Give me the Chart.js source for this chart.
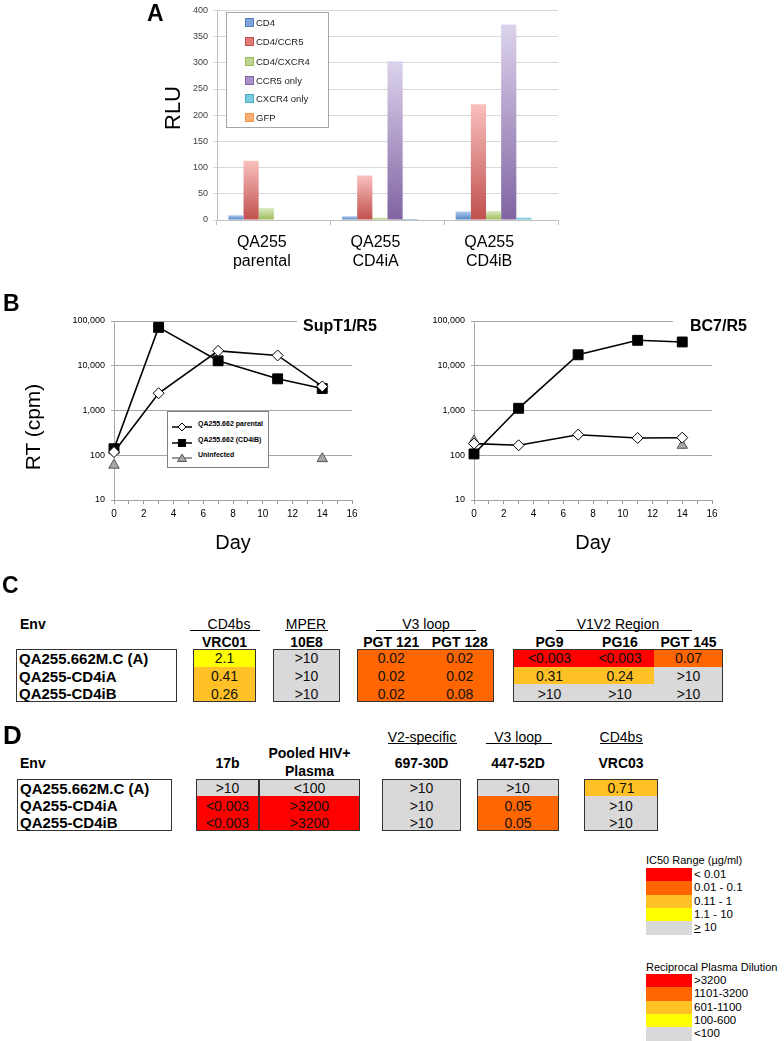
<!DOCTYPE html>
<html><head><meta charset="utf-8">
<script src="https://cdn.jsdelivr.net/npm/chart.js@4"></script>
<style>
html,body{margin:0;padding:0;background:#fff;}
body{width:784px;height:1041px;position:relative;overflow:hidden;font-family:"Liberation Sans",Arial,Helvetica,sans-serif;color:#000;}
.a{position:absolute;line-height:1;white-space:nowrap;}
canvas{position:absolute;}
.box{position:absolute;border:1.5px solid #333;box-sizing:border-box;background:#fff;}
</style></head><body>
<canvas id="cA" width="430" height="290" style="left:140px;top:0px"></canvas>
<canvas id="cB1" width="380" height="250" style="left:0px;top:300px"></canvas>
<canvas id="cB2" width="404" height="250" style="left:380px;top:300px"></canvas>
<script>
// ---------- Panel A data ----------
const groupLabels = [['QA255','parental'],['QA255','CD4iA'],['QA255','CD4iB']];
const seriesNames = ['CD4','CD4/CCR5','CD4/CXCR4','CCR5 only','CXCR4 only','GFP'];
const cd4 = [9, 7, 16];
const cd4ccr5 = [113, 85, 221];
const cd4cxcr4 = [23, 5, 17];
const ccr5only = [1, 303, 373];
const cxcr4only = [1, 2, 5];
const gfp = [0, 0, 0];
const rluTicks = [0,50,100,150,200,250,300,350,400];

// ---------- Panel B data ----------
const days = [0, 3, 7, 11, 14];
const uninfDays = [0, 14];
const supParental = [118, 2430, 21500, 17000, 3450];
const supCD4iB = [140, 72000, 12900, 5100, 3100];
const supUninf = [60, 84];
const bc7Parental = [182, 167, 288, 243, 247];
const bc7CD4iB = [107, 1120, 17600, 37000, 34000];
const bc7Uninf = [212, 167];
const rtTicks = [10, 100, 1000, 10000, 100000];
const lineLegend = ['QA255.662 parental', 'QA255.662 (CD4iB)', 'Uninfected'];

// ---------- Panel C data ----------
const envs = ['QA255.662M.C (A)', 'QA255-CD4iA', 'QA255-CD4iB'];
const cGroupNames = ['CD4bs', 'MPER', 'V3 loop', 'V1V2 Region'];
const cAntibodies = ['VRC01', '10E8', 'PGT 121', 'PGT 128', 'PG9', 'PG16', 'PGT 145'];
const cValues = [
  ['2.1', '>10', '0.02', '0.02', '<0.003', '<0.003', '0.07'],
  ['0.41', '>10', '0.02', '0.02', '0.31', '0.24', '>10'],
  ['0.26', '>10', '0.02', '0.08', '>10', '>10', '>10']
];

// ---------- Panel D data ----------
const dAntibodies = ['17b', 'Pooled HIV+ Plasma', '697-30D', '447-52D', 'VRC03'];
const dGroupNames = ['V2-specific', 'V3 loop', 'CD4bs'];
const dValues = [
  ['>10', '<100', '>10', '>10', '0.71'],
  ['<0.003', '>3200', '>10', '0.05', '>10'],
  ['<0.003', '>3200', '>10', '0.05', '>10']
];
const dIsPlasma = [false, true, false, false, false];

// ---------- Legend scales ----------
const ic50Title = 'IC50 Range (µg/ml)';
const ic50Labels = ['< 0.01', '0.01 - 0.1', '0.11 - 1', '1.1 - 10', '≥ 10'];
const plasmaTitle = 'Reciprocal Plasma Dilution';
const plasmaLabels = ['>3200', '1101-3200', '601-1100', '100-600', '<100'];

// ---------- styles ----------
const F = '"Liberation Sans", Arial, Helvetica, sans-serif';
const RED = '#FF0000', ORANGE = '#FF6600', AMBER = '#FFC125', YELLOW = '#FFFF00', GREY = '#D9D9D9';
const SCALE_COLORS = [RED, ORANGE, AMBER, YELLOW, GREY];

function ic50Color(s) {
  if (s[0] === '<') return RED;
  if (s[0] === '>') return GREY;
  const v = parseFloat(s);
  if (v < 0.01) return RED;
  if (v <= 0.1) return ORANGE;
  if (v <= 1) return AMBER;
  if (v < 10) return YELLOW;
  return GREY;
}
function plasmaColor(s) {
  const v = parseFloat(s.replace(/[<>]/g, ''));
  if (s[0] === '<' && v <= 100) return GREY;
  if (s[0] === '>' && v >= 3200) return RED;
  if (v > 1100) return ORANGE;
  if (v > 600) return AMBER;
  if (v >= 100) return YELLOW;
  return GREY;
}

// text helper
function T(text, x, y, fs, opt = {}) {
  const d = document.createElement('div');
  d.className = 'a';
  d.innerHTML = text;
  d.style.fontSize = fs + 'px';
  d.style.left = x + 'px';
  d.style.top = (y - fs / 2) + 'px';
  if (opt.bold) d.style.fontWeight = 'bold';
  if (opt.color) d.style.color = opt.color;
  let tr = '';
  if (opt.center) tr += 'translateX(-50%) ';
  if (opt.rot) { d.style.top = y + 'px'; tr = 'translate(-50%,-50%) rotate(-90deg)'; }
  if (tr) d.style.transform = tr;
  if (opt.bg) { d.style.background = opt.bg; }
  if (opt.pad) d.style.padding = opt.pad;
  if (opt.ul) d.style.textDecoration = 'underline';
  document.body.appendChild(d);
  return d;
}
function R(x, y, w, h, css) {
  const d = document.createElement('div');
  d.style.position = 'absolute';
  d.style.left = x + 'px'; d.style.top = y + 'px';
  d.style.width = w + 'px'; d.style.height = h + 'px';
  Object.assign(d.style, css || {});
  document.body.appendChild(d);
  return d;
}

// ---------- Panel A ----------
const tops = ['#AFCBF2', '#F9C0BE', '#DCEBC2', '#DCD3EC', '#AEE3EF', '#FBC9A0'];
const bots = ['#4F81BD', '#C0504D', '#9BBB59', '#8064A2', '#4BACC6', '#F79646'];
const mids = ['#7EA6DA', '#E07B78', '#BCD58E', '#A892C9', '#7DCBE0', '#F9AE73'];
const seriesData = [cd4, cd4ccr5, cd4cxcr4, ccr5only, cxcr4only, gfp];
function grad(top, bottom) {
  return (c) => {
    const chart = c.chart;
    const area = chart.chartArea;
    if (!area || c.type !== 'data' || !chart.scales.y) return bottom;
    const v = c.raw;
    const yT = chart.scales.y.getPixelForValue(v);
    const yB = chart.scales.y.getPixelForValue(0);
    if (!isFinite(yT) || yB - yT < 2) return bottom;
    const g = chart.ctx.createLinearGradient(0, yT, 0, yB);
    g.addColorStop(0, top);
    g.addColorStop(1, bottom);
    return g;
  };
}
new Chart(document.getElementById('cA'), {
  type: 'bar',
  data: {
    labels: groupLabels,
    datasets: seriesNames.map((n, i) => ({
      label: n, data: seriesData[i], backgroundColor: grad(tops[i], bots[i]),
      borderWidth: 0, barPercentage: 1, categoryPercentage: 0.8
    }))
  },
  options: {
    responsive: false, animation: false, events: [],
    layout: { padding: { top: 5, right: 12, left: 0, bottom: 0 } },
    plugins: { legend: { display: false }, tooltip: { enabled: false } },
    scales: {
      x: {
        grid: { display: true, drawOnChartArea: false, drawTicks: true, tickLength: 5, color: '#BFBFBF', offset: true },
        border: { color: '#BFBFBF' },
        ticks: { font: { size: 16, family: F, lineHeight: 1.2 }, color: '#000', padding: 8, labelOffset: -12, maxRotation: 0, autoSkip: false },
        afterFit: s => { s.height = 70; }
      },
      y: {
        min: 0, max: 400,
        afterBuildTicks: s => { s.ticks = rluTicks.map(v => ({ value: v })); },
        ticks: { font: { size: 9, family: F }, color: '#404040', padding: 5 },
        grid: { color: '#D9D9D9', tickLength: 4 },
        border: { color: '#BFBFBF' },
        afterFit: s => { s.width = 77; }
      }
    }
  }
});
T('A', 147, 13.5, 23, { bold: true });
T('RLU', 173, 108, 22, { rot: true });
R(226, 12, 103, 116, { border: '1px solid #A6A6A6', boxSizing: 'border-box', background: '#fff' });
const aRowY = [23, 42, 62, 81, 99, 118];
seriesNames.forEach((n, i) => {
  R(245, aRowY[i] - 5, 9, 9, { background: mids[i], border: '1px solid ' + bots[i], boxSizing: 'border-box' });
  T(n, 256, aRowY[i], 9.5, { color: '#222' });
});

// ---------- Panel B ----------
function ptsFrom(xs, ys) { return xs.map((x, i) => ({ x: x, y: ys[i] })); }
function makeLine(id, par, cd4ib, un, yWidth, padRight) {
  new Chart(document.getElementById(id), {
    type: 'line',
    data: {
      datasets: [
        { label: lineLegend[0], data: ptsFrom(days, par), borderColor: '#000', borderWidth: 1.6,
          pointStyle: 'rectRot', pointRadius: 5.5, pointBackgroundColor: '#fff', pointBorderColor: '#000', pointBorderWidth: 1, clip: false },
        { label: lineLegend[1], data: ptsFrom(days, cd4ib), borderColor: '#000', borderWidth: 1.6,
          pointStyle: 'rect', pointRadius: 7, pointBackgroundColor: '#000', pointBorderColor: '#000', pointBorderWidth: 1, clip: false },
        { label: lineLegend[2], data: ptsFrom(uninfDays, un), showLine: false,
          pointStyle: 'triangle', pointRadius: 6, pointBackgroundColor: '#A6A6A6', pointBorderColor: '#555', pointBorderWidth: 1, clip: false }
      ]
    },
    options: {
      responsive: false, animation: false, events: [],
      layout: { padding: { top: 21, right: padRight, left: 0, bottom: 0 } },
      plugins: { legend: { display: false }, tooltip: { enabled: false } },
      scales: {
        x: {
          type: 'linear', min: 0, max: 16,
          ticks: { stepSize: 1, autoSkip: false, maxRotation: 0, callback: v => (v % 2 === 0 ? String(v) : ''),
                   font: { size: 10, family: '"Liberation Sans Narrow", ' + F }, color: '#000', padding: 4 },
          grid: { drawOnChartArea: false, drawTicks: true, tickLength: 4, color: '#999' },
          border: { color: '#A6A6A6' },
          afterFit: s => { s.height = 50; }
        },
        y: {
          type: 'logarithmic', min: 10, max: 100000,
          afterBuildTicks: s => { s.ticks = rtTicks.map(v => ({ value: v })); },
          ticks: { callback: v => Number(v).toLocaleString('en-US'), font: { size: 9, family: F }, color: '#000', padding: 6 },
          grid: { color: '#A6A6A6', tickLength: 3 },
          border: { color: '#A6A6A6' },
          afterFit: s => { s.width = yWidth; }
        }
      }
    }
  });
}
makeLine('cB1', supParental, supCD4iB, supUninf, 114, 28);
makeLine('cB2', bc7Parental, bc7CD4iB, bc7Uninf, 94, 72);
T('B', 3, 303.5, 23, { bold: true });
T('SupT1/R5', 297, 326, 16, { bold: true, bg: '#fff', pad: '0 4px 0 6px' });
T('BC7/R5', 673, 326, 16, { bold: true, bg: '#fff', pad: '0 4px 0 17px' });
T('RT (cpm)', 32, 427, 21, { rot: true });
T('Day', 233, 542, 20, { center: true });
T('Day', 593, 542, 20, { center: true });
// line legend
R(167, 411, 102, 57, { border: '1px solid #808080', boxSizing: 'border-box', background: '#fff' });
const symSvg = [
  '<line x1="0" y1="5" x2="20" y2="5" stroke="#000" stroke-width="1.5"/><polygon points="10,1 14,5 10,9 6,5" fill="#fff" stroke="#000" stroke-width="1"/>',
  '<line x1="0" y1="5" x2="20" y2="5" stroke="#000" stroke-width="1.5"/><rect x="6" y="1" width="8" height="8" fill="#000"/>',
  '<line x1="0" y1="5" x2="20" y2="5" stroke="#555" stroke-width="1.2"/><polygon points="10,1 14.5,8.5 5.5,8.5" fill="#A6A6A6" stroke="#555" stroke-width="1"/>'
];
const bRowY = [423, 439, 454];
lineLegend.forEach((n, i) => {
  const s = document.createElement('div');
  s.style.cssText = 'position:absolute;left:172px;top:' + (bRowY[i] - 5) + 'px;width:20px;height:10px;';
  s.innerHTML = '<svg width="20" height="10" xmlns="http://www.w3.org/2000/svg">' + symSvg[i] + '</svg>';
  document.body.appendChild(s);
  T(n, 198, bRowY[i], 7, { bold: true });
});

// ---------- Panel C ----------
T('C', 2, 585, 23, { bold: true });
T('Env', 20, 624, 14, { bold: true });
const cBoxes = [[193, 256], [273, 340], [357, 425.5, 494], [513, 586, 654, 723]];
const cBoxCols = [[0], [1], [2, 3], [4, 5, 6]];
const cHead = [{ cx: 229, l0: 190, l1: 260 }, { cx: 306, l0: 285, l1: 328 }, { cx: 426, l0: 376, l1: 476 }, { cx: 618, l0: 556, l1: 692 }];
const cTop = 649, cBot = 702;
function envBox(x0, x1, top, bot, fs) {
  R(x0, top, x1 - x0, bot - top, { border: '1.5px solid #333', boxSizing: 'border-box', background: '#fff' });
  const rh = (bot - top) / envs.length;
  envs.forEach((e, r) => T(e, x0 + 3, top + rh * (r + 0.5) + 0.5, fs, { bold: true }));
}
envBox(16, 177, cTop, cBot, 15);
cBoxes.forEach((edges, b) => {
  const rh = (cBot - cTop) / envs.length;
  cBoxCols[b].forEach((ai, k) => {
    const x0 = edges[k], x1 = edges[k + 1];
    const cx = (x0 + x1) / 2;
    T(cAntibodies[ai], cx, 642, 14, { bold: true, center: true });
    envs.forEach((e, r) => {
      const val = cValues[r][ai];
      R(x0, cTop + rh * r, x1 - x0, rh + 0.5, { background: ic50Color(val) });
      T(val.replace('<', '&lt;').replace('>', '&gt;'), cx, cTop + rh * (r + 0.5) + 0.5, 14, { center: true, color: '#111' });
    });
  });
  R(edges[0], cTop, edges[edges.length - 1] - edges[0], cBot - cTop, { border: '1.5px solid #333', boxSizing: 'border-box' });
  const h = cHead[b];
  T(cGroupNames[b], h.cx, 624, 14, { center: true });
  R(h.l0, 630, h.l1 - h.l0, 1, { background: '#000' });
});

// ---------- Panel D ----------
T('D', 3, 734.5, 26, { bold: true });
T('Env', 20, 763, 14, { bold: true });
const dTop = 779, dBot = 831;
envBox(17, 172, dTop, dBot, 15);
const dBoxes = [[196, 259, 360], [382, 461], [477, 559], [584, 658]];
const dBoxCols = [[0, 1], [2], [3], [4]];
const dHead = [null, { cx: 422, l0: 388, l1: 457 }, { cx: 518, l0: 486, l1: 552 }, { cx: 621, l0: 600, l1: 643 }];
dBoxes.forEach((edges, b) => {
  const rh = (dBot - dTop) / envs.length;
  dBoxCols[b].forEach((ai, k) => {
    const x0 = edges[k], x1 = edges[k + 1];
    const cx = (x0 + x1) / 2;
    const name = dAntibodies[ai];
    if (name.indexOf('Plasma') >= 0) {
      T('Pooled HIV+', cx, 753, 14, { bold: true, center: true });
      T('Plasma', cx, 771, 14, { bold: true, center: true });
    } else {
      T(name, cx, 763, 14, { bold: true, center: true });
    }
    envs.forEach((e, r) => {
      const val = dValues[r][ai];
      const col = dIsPlasma[ai] ? plasmaColor(val) : ic50Color(val);
      R(x0, dTop + rh * r, x1 - x0, rh + 0.5, { background: col });
      T(val.replace('<', '&lt;').replace('>', '&gt;'), cx, dTop + rh * (r + 0.5) + 0.5, 14, { center: true, color: '#111' });
    });
    if (k > 0) R(x0 - 0.75, dTop, 1.5, dBot - dTop, { background: '#333' });
  });
  R(edges[0], dTop, edges[edges.length - 1] - edges[0], dBot - dTop, { border: '1.5px solid #333', boxSizing: 'border-box' });
  const h = dHead[b];
  if (h) {
    T(dGroupNames[b - 1], h.cx, 737, 14, { center: true });
    R(h.l0, 743, h.l1 - h.l0, 1, { background: '#000' });
  }
});

// ---------- Colour keys ----------
function colorKey(title, labels, titleY, top) {
  T(title, 646, titleY, 11);
  const rh = 13.3;
  labels.forEach((l, i) => {
    R(646, top + rh * i, 46, rh + 0.3, { background: SCALE_COLORS[i] });
    R(692, top + rh * i, 0, 0, {});
    let txt = l.replace('<', '&lt;').replace('>', '&gt;');
    if (l[0] === '≥') txt = '<span style="text-decoration:underline">&gt;</span>' + l.slice(1);
    T(txt, 694, top + rh * (i + 0.5), 11.5);
  });
}
colorKey(ic50Title, ic50Labels, 860, 868);
colorKey(plasmaTitle, plasmaLabels, 967, 974);
</script>
</body></html>
